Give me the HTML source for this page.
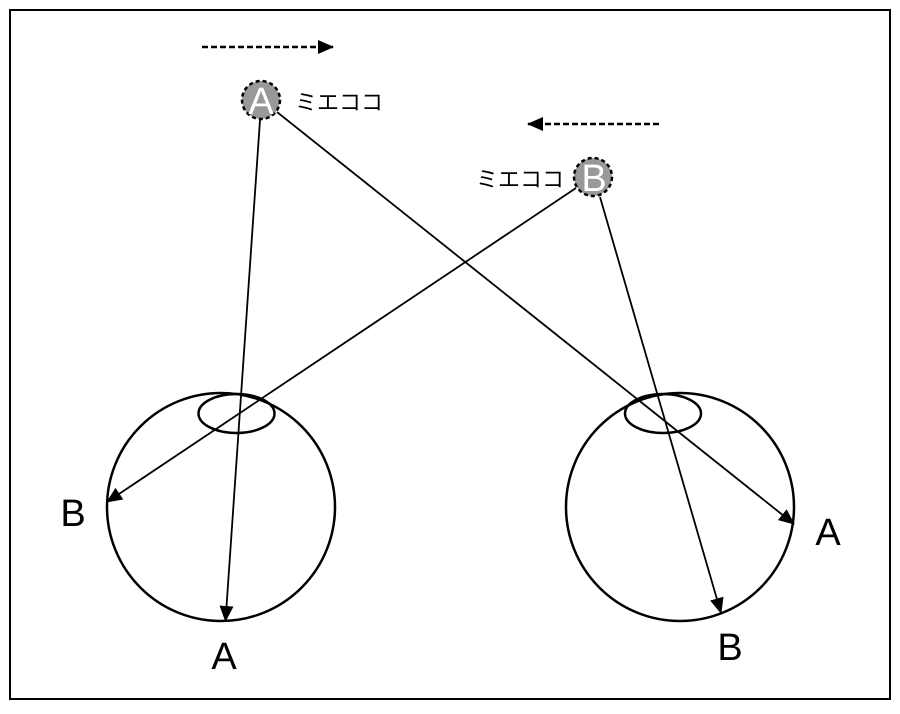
<!DOCTYPE html>
<html><head><meta charset="utf-8"><style>html,body{margin:0;padding:0;background:#fff}</style></head>
<body>
<svg width="900" height="709" viewBox="0 0 900 709" xmlns="http://www.w3.org/2000/svg">
<defs>
<marker id="ar2" markerWidth="16" markerHeight="14" refX="15" refY="7" orient="auto" markerUnits="userSpaceOnUse" viewBox="0 0 16 14">
<path d="M0,0 L16,7 L0,14 z" fill="#000"/>
</marker>
</defs>
<rect x="10" y="10" width="880" height="689" fill="#fff" stroke="#000" stroke-width="2"/>
<line x1="202" y1="47" x2="333" y2="47" stroke="#000" stroke-width="2.5" stroke-dasharray="6,3" marker-end="url(#ar2)"/>
<line x1="659" y1="124" x2="528" y2="124" stroke="#000" stroke-width="2.5" stroke-dasharray="6,3" marker-end="url(#ar2)"/>
<circle cx="221" cy="507" r="114" fill="none" stroke="#000" stroke-width="2.5"/>
<ellipse cx="236.5" cy="413.5" rx="38" ry="19.5" fill="none" stroke="#000" stroke-width="2.5"/>
<circle cx="680" cy="507" r="114" fill="none" stroke="#000" stroke-width="2.5"/>
<ellipse cx="663" cy="413.5" rx="38" ry="19.5" fill="none" stroke="#000" stroke-width="2.5"/>
<g stroke="#000" stroke-width="1.8">
<line x1="260" y1="120" x2="225.5" y2="621" marker-end="url(#ar2)"/>
<line x1="277" y1="112" x2="794" y2="524" marker-end="url(#ar2)"/>
<line x1="576" y1="188" x2="107" y2="502" marker-end="url(#ar2)"/>
<line x1="600" y1="197" x2="721" y2="613" marker-end="url(#ar2)"/>
</g>
<circle cx="261" cy="100" r="19" fill="#999" stroke="#000" stroke-width="2.5" stroke-dasharray="4,3"/>
<text x="261" y="114" font-family="Liberation Sans, sans-serif" font-size="38" fill="#fff" text-anchor="middle">A</text>
<circle cx="593" cy="177" r="19" fill="#999" stroke="#000" stroke-width="2.5" stroke-dasharray="4,3"/>
<text x="594" y="191" font-family="Liberation Sans, sans-serif" font-size="38" fill="#fff" text-anchor="middle">B</text>
<text x="295" y="110" font-family="'Noto Sans CJK JP', sans-serif" font-size="22" fill="#000">ミエココ</text>
<text x="476" y="187" font-family="'Noto Sans CJK JP', sans-serif" font-size="22" fill="#000">ミエココ</text>
<g font-family="Liberation Sans, sans-serif" font-size="38" fill="#000" text-anchor="middle">
<text x="73" y="526">B</text>
<text x="224" y="669">A</text>
<text x="828" y="545">A</text>
<text x="730" y="660">B</text>
</g>
</svg>
</body></html>
